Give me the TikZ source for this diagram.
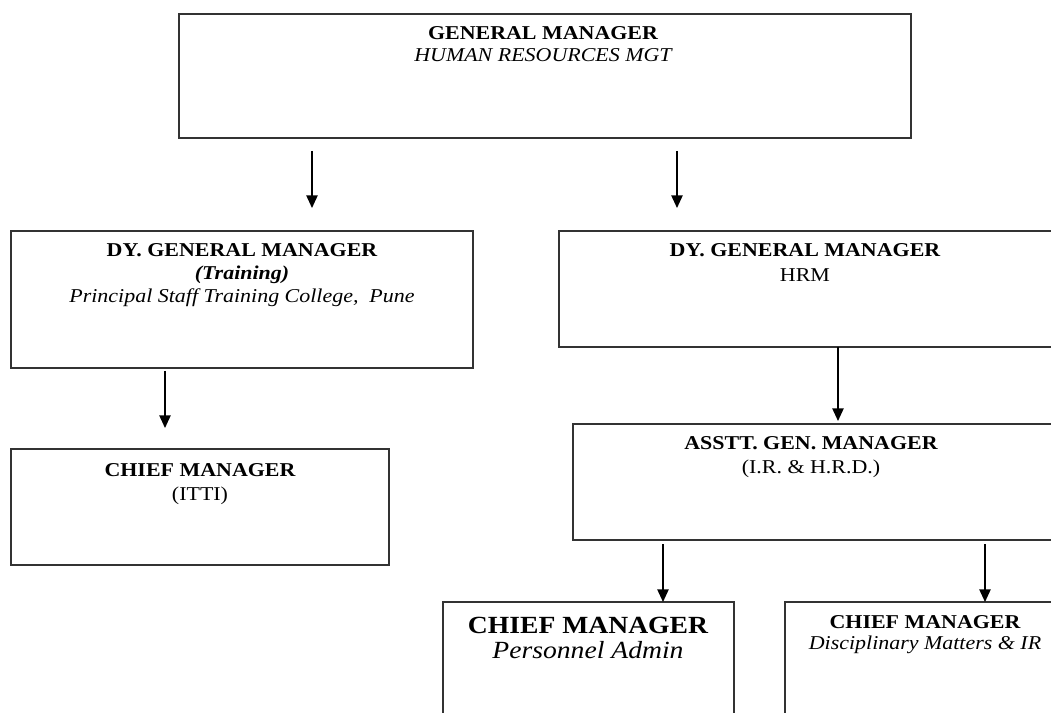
\documentclass[tikz,border=0pt]{standalone}
\usepackage{fontspec}
\setmainfont{Liberation Serif}[FakeStretch=1.12]
\usetikzlibrary{arrows.meta}
\begin{document}
\begin{tikzpicture}[x=0.75pt,y=-0.75pt,
  box/.style={draw=black!80, line width=1.1pt, rectangle, inner sep=0pt, outer sep=0pt, anchor=north west},
  ttl/.style={font=\fontsize{14.7}{16}\selectfont\bfseries, anchor=base, inner sep=0pt},
  sub/.style={font=\fontsize{14.7}{16}\selectfont, anchor=base, inner sep=0pt},
  subit/.style={font=\fontsize{14.7}{16}\selectfont\itshape, anchor=base, inner sep=0pt},
  bigttl/.style={font=\fontsize{18.5}{20}\selectfont\bfseries, anchor=base, inner sep=0pt},
  bigit/.style={font=\fontsize{18.5}{20}\selectfont\itshape, anchor=base, inner sep=0pt},
  arr/.style={-{Triangle[width=8.5pt,length=9.5pt]}, line width=1.1pt, black}]
\clip (0,0) rectangle (1051,713);
\fill[white] (0,0) rectangle (1051,713);
% boxes
\node[box, minimum width=549pt, minimum height=93pt] (gm) at (179,14) {};
\node[box, minimum width=346.5pt, minimum height=102.75pt] (dgm1) at (11,231) {};
\node[box, minimum width=375.75pt, minimum height=87pt] (dgm2) at (559,231) {};
\node[box, minimum width=283.5pt, minimum height=87pt] (itti) at (11,449) {};
\node[box, minimum width=365.25pt, minimum height=87pt] (asst) at (573,424) {};
\node[box, minimum width=218.25pt, minimum height=92.25pt] (pers) at (443,602) {};
\node[box, minimum width=213.75pt, minimum height=92.25pt] (disc) at (785,602) {};
% texts
\node[ttl] (gm1) at (543,40) {GENERAL MANAGER};
\node[subit] (gm2) at (543,62) {HUMAN RESOURCES MGT};
\node[ttl] (d11) at (242,257) {DY. GENERAL MANAGER};
\node[ttl, font=\fontsize{14.7}{16}\selectfont\bfseries\itshape] (d12) at (242,280) {(Training)};
\node[subit] (d13) at (242,303) {Principal Staff Training College,\ \ Pune};
\node[ttl] (d21) at (805,257) {DY. GENERAL MANAGER};
\node[sub] (d22) at (805,282) {HRM};
\node[ttl] (i1) at (200,476) {CHIEF MANAGER};
\node[sub] (i2) at (200,500) {(ITTI)};
\node[ttl] (a1) at (811,450) {ASSTT. GEN. MANAGER};
\node[sub] (a2) at (811,473) {(I.R. \& H.R.D.)};
\node[bigttl] (p1) at (588,633) {CHIEF MANAGER};
\node[bigit] (p2) at (588,658) {Personnel Admin};
\node[ttl] (s1) at (925,628) {CHIEF MANAGER};
\node[subit] (s2) at (925,649) {Disciplinary Matters \& IR};
% arrow columns
\coordinate (c1) at (312,0);
\coordinate (c2) at (677,0);
\coordinate (c3) at (165,0);
\coordinate (c4) at (838,0);
\coordinate (c5) at (663,0);
\coordinate (c6) at (985,0);
\draw[arr, shorten <=9.75pt, shorten >=17.25pt] (gm.south -| c1) -- (dgm1.north -| c1);
\draw[arr, shorten <=9.75pt, shorten >=17.25pt] (gm.south -| c2) -- (dgm2.north -| c2);
\draw[arr, shorten <=2.25pt, shorten >=15.75pt] (dgm1.south -| c3) -- (itti.north -| c3);
\draw[arr, shorten >=2.25pt] (dgm2.south -| c4) -- (asst.north -| c4);
\draw[arr, shorten <=3pt] (asst.south -| c5) -- (pers.north -| c5);
\draw[arr, shorten <=3pt] (asst.south -| c6) -- (disc.north -| c6);
\end{tikzpicture}
\end{document}
